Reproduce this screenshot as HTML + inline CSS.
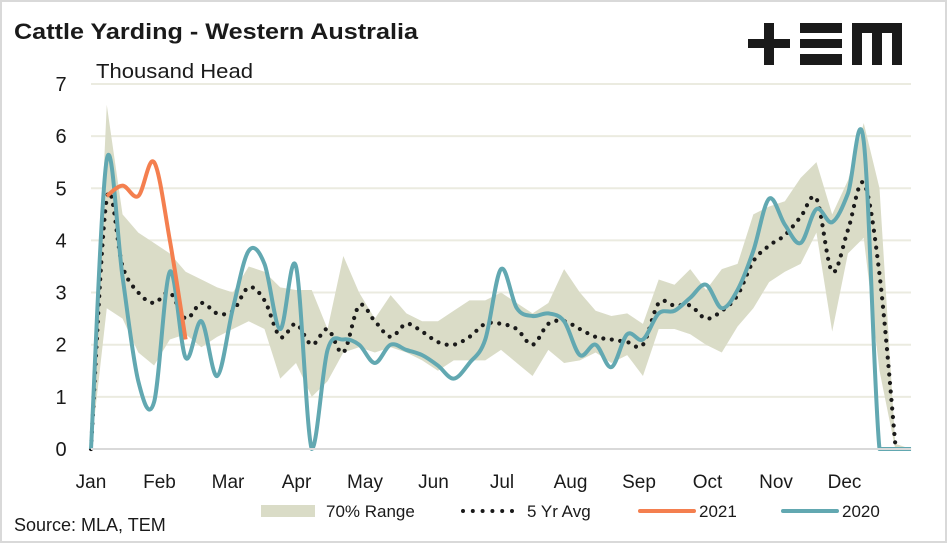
<!DOCTYPE html>
<html><head><meta charset="utf-8"><style>
html,body{margin:0;padding:0;background:#fff;}
svg{display:block;font-family:"Liberation Sans",sans-serif;}
</style></head><body>
<svg id="chart" width="947" height="543" viewBox="0 0 947 543" xmlns="http://www.w3.org/2000/svg">
<rect x="1" y="1" width="945" height="541" fill="#fff" stroke="#d9d9d9" stroke-width="2"/>
<text x="14" y="39" font-size="22" font-weight="bold" fill="#1a1a1a" textLength="404" lengthAdjust="spacingAndGlyphs">Cattle Yarding - Western Australia</text>
<text x="96" y="78" font-size="20" fill="#1a1a1a" textLength="157" lengthAdjust="spacingAndGlyphs">Thousand Head</text>
<g fill="#1a1a1a">
<rect x="748" y="39" width="42" height="9"/><rect x="764" y="23" width="10" height="42"/>
<rect x="800" y="23" width="42" height="10"/><rect x="800" y="39" width="42" height="9"/><rect x="800" y="54" width="42" height="11"/>
<rect x="852" y="23" width="50" height="10"/><rect x="852" y="23" width="10" height="42"/><rect x="872" y="23" width="10" height="42"/><rect x="892" y="23" width="10" height="42"/>
</g>
<g id="grid"></g><g id="series"></g><g id="axes"></g>
<g font-size="17" fill="#1a1a1a">
<rect x="261" y="505" width="54" height="12" fill="#dadcc7"/>
<text x="326" y="517">70% Range</text>
<line x1="463" y1="511" x2="513" y2="511" stroke="#1a1a1a" stroke-width="4" stroke-linecap="round" stroke-dasharray="0 9.8"/>
<text x="527" y="517">5 Yr Avg</text>
<line x1="640" y1="511" x2="694" y2="511" stroke="#f47f4f" stroke-width="4" stroke-linecap="round"/>
<text x="699" y="517">2021</text>
<line x1="783" y1="511" x2="837" y2="511" stroke="#62a8b1" stroke-width="4" stroke-linecap="round"/>
<text x="842" y="517">2020</text>
</g>
<text x="14" y="531" font-size="18" fill="#1a1a1a">Source: MLA, TEM</text>
</svg>
<script>
const months = ["Jan","Feb","Mar","Apr","May","Jun","Jul","Aug","Sep","Oct","Nov","Dec"];
const yTicks = [0,1,2,3,4,5,6,7];
const rangeUpper = [0,6.6,4.5,4.15,3.95,3.75,3.4,3.25,3.1,3.0,3.5,3.4,3.1,3.05,3.05,2.3,3.7,3.0,2.5,2.95,2.6,2.45,2.45,2.65,2.85,2.85,3.0,2.8,2.6,2.8,3.45,3.0,2.65,2.55,2.6,2.4,3.25,3.15,3.45,3.05,3.45,3.55,4.5,4.65,4.75,5.2,5.5,4.5,5.15,6.25,5.0,0.1,0];
const rangeLower = [0,2.7,2.5,1.85,1.6,2.1,2.2,1.95,2.15,2.3,2.45,2.3,1.35,1.65,1.0,1.3,1.85,1.95,1.85,1.95,1.85,1.7,1.5,1.7,1.7,1.7,1.9,1.65,1.4,1.9,1.65,1.7,1.85,1.65,1.8,1.4,2.3,2.3,2.2,2.0,1.85,2.35,2.7,3.2,3.4,3.55,4.15,2.25,3.75,4.05,1.5,0,0];
const avg5yr = [0,4.8,3.5,3.0,2.8,3.0,2.5,2.8,2.6,2.65,3.1,2.85,2.15,2.4,2.0,2.3,1.85,2.75,2.45,2.15,2.4,2.25,2.05,2.0,2.15,2.4,2.4,2.3,2.0,2.4,2.45,2.3,2.15,2.1,2.05,2.0,2.8,2.75,2.75,2.5,2.65,2.95,3.6,3.9,4.1,4.45,4.8,3.4,4.2,5.1,3.35,0.1];
const y2021 = [null,4.85,5.05,4.85,5.5,4.0,2.1];
const y2020 = [0,5.55,3.3,1.3,0.9,3.4,1.75,2.45,1.4,2.7,3.8,3.55,2.3,3.5,0,1.9,2.1,2.0,1.65,2.0,1.9,1.8,1.6,1.35,1.65,2.1,3.45,2.7,2.55,2.6,2.45,1.8,2.0,1.57,2.2,2.1,2.6,2.65,2.9,3.15,2.7,3.05,3.8,4.8,4.3,3.95,4.6,4.35,4.9,5.9,0,0,0];

const NS="http://www.w3.org/2000/svg";
const X0=91, STEP=15.77, Y0=449, YU=52.15;
const xw = i => X0 + i*STEP;
const xm = m => 91 + m*68.5;
const yv = v => Y0 - v*YU;
function mk(tag, attrs, parent){const e=document.createElementNS(NS,tag);for(const k in attrs)e.setAttribute(k,attrs[k]);parent.appendChild(e);return e;}
function smooth(pts){
  let d=`M${pts[0][0]},${pts[0][1]}`;
  const cl=y=>Math.min(Y0,y);
  for(let i=0;i<pts.length-1;i++){
    const p0=pts[Math.max(i-1,0)],p1=pts[i],p2=pts[i+1],p3=pts[Math.min(i+2,pts.length-1)];
    const c1=[p1[0]+(p2[0]-p0[0])/6,cl(p1[1]+(p2[1]-p0[1])/6)];
    const c2=[p2[0]-(p3[0]-p1[0])/6,cl(p2[1]-(p3[1]-p1[1])/6)];
    d+=`C${c1[0]},${c1[1]} ${c2[0]},${c2[1]} ${p2[0]},${p2[1]}`;
  }
  return d;
}
const grid=document.getElementById('grid'), series=document.getElementById('series'), axes=document.getElementById('axes');
yTicks.forEach(t=>{
  if(t>0){
    const g=mk('line',{x1:91,x2:911,y1:yv(t),y2:yv(t),stroke:'#ebebe0','stroke-width':2},grid);
    
    
  }
  const l=mk('text',{x:61,y:yv(t)+7,'font-size':20,'text-anchor':'middle',fill:'#1a1a1a'},axes);
  l.textContent=t;
  
  
});
const base=mk('line',{x1:91,x2:911,y1:Y0,y2:Y0,stroke:'#d9d9d9','stroke-width':2},axes);


months.forEach((m,i)=>{
  const l=mk('text',{x:xm(i),y:488,'font-size':19,'text-anchor':'middle',fill:'#1a1a1a'},axes);
  l.textContent=m;
  
  
});
let pts=rangeUpper.map((v,i)=>`${xw(i)},${yv(v)}`);
for(let i=rangeLower.length-1;i>=0;i--) pts.push(`${xw(i)},${yv(rangeLower[i])}`);
const band=mk('polygon',{points:pts.join(' '),fill:'#dadcc7'},series);


const avgPath=mk('path',{d:smooth(avg5yr.map((v,i)=>[xw(i),yv(v)])),fill:'none',stroke:'#1a1a1a','stroke-width':4.2,'stroke-linecap':'round','stroke-dasharray':'0 8.5'},series);


const p20=mk('path',{d:smooth(y2020.map((v,i)=>[xw(i),yv(v)])),fill:'none',stroke:'#62a8b1','stroke-width':4,'stroke-linejoin':'round'},series);


const p21pts=[];y2021.forEach((v,i)=>{if(v!==null)p21pts.push([xw(i),yv(v)]);});
const p21=mk('path',{d:smooth(p21pts),fill:'none',stroke:'#f47f4f','stroke-width':4,'stroke-linejoin':'round'},series);


</script>
</body></html>
